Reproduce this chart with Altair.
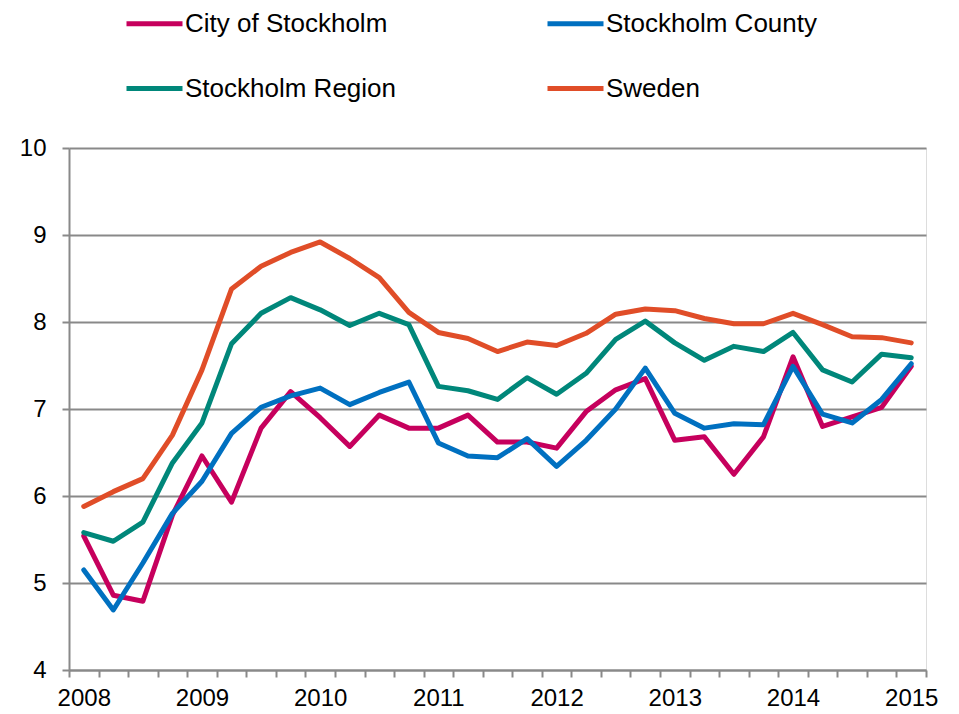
import altair as alt
import pandas as pd

quarters = [f"{y}Q{q}" for y in range(2008, 2016) for q in range(1, 5)][:29]

series_names = ["City of Stockholm", "Stockholm County", "Stockholm Region", "Sweden"]
colors = ["#C6005D", "#0070C0", "#00877A", "#E04D28"]

city = [5.54, 4.86, 4.79, 5.78, 6.46, 5.93, 6.78, 7.20, 6.90, 6.57,
        6.93, 6.78, 6.78, 6.93, 6.62, 6.62, 6.55, 6.97, 7.22, 7.35,
        6.64, 6.68, 6.25, 6.68, 7.60, 6.80, 6.91, 7.02, 7.49]
county = [5.15, 4.69, 5.23, 5.80, 6.17, 6.72, 7.02, 7.15, 7.24, 7.05,
          7.19, 7.31, 6.61, 6.46, 6.44, 6.66, 6.34, 6.64, 7.00, 7.47,
          6.95, 6.78, 6.83, 6.82, 7.49, 6.94, 6.84, 7.11, 7.52]
region = [5.58, 5.48, 5.70, 6.38, 6.84, 7.75, 8.10, 8.28, 8.14, 7.96,
          8.10, 7.97, 7.26, 7.21, 7.11, 7.36, 7.17, 7.41, 7.80, 8.01,
          7.76, 7.56, 7.72, 7.66, 7.88, 7.45, 7.31, 7.63, 7.59]
sweden = [5.88, 6.05, 6.20, 6.70, 7.45, 8.38, 8.64, 8.80, 8.92, 8.73,
          8.51, 8.11, 7.88, 7.81, 7.66, 7.77, 7.73, 7.87, 8.09, 8.15,
          8.13, 8.04, 7.98, 7.98, 8.10, 7.97, 7.83, 7.82, 7.76]

rows = []
for name, vals in zip(series_names, [city, county, region, sweden]):
    for i, (q, v) in enumerate(zip(quarters, vals)):
        rows.append({"series": name, "quarter": q, "value": v, "order": i})
df = pd.DataFrame(rows)

FONT = "Liberation Sans"
GRAY = "#898989"

chart = alt.Chart(df).mark_line(strokeWidth=5, strokeCap="round", strokeJoin="round").encode(
    x=alt.X(
        "quarter:O",
        sort=quarters,
        bandPosition=0.5,
        scale=alt.Scale(type="band", paddingInner=0, paddingOuter=0),
        axis=alt.Axis(
            title=None,
            tickBand="extent",
            labelAngle=0,
            labelExpr="substring(datum.value, 4) == 'Q1' ? substring(datum.value, 0, 4) : ''",
            labelOverlap=False,
            labelFont=FONT,
            labelFontSize=24,
            labelColor="black",
            labelPadding=9,
            tickSize=7,
            tickColor=GRAY,
            tickWidth=2,
            domainColor=GRAY,
            domainWidth=2,
            grid=False,
        ),
    ),
    y=alt.Y(
        "value:Q",
        scale=alt.Scale(domain=[4, 10], nice=False, zero=False),
        axis=alt.Axis(
            title=None,
            values=[4, 5, 6, 7, 8, 9, 10],
            grid=True,
            gridColor=GRAY,
            gridWidth=2,
            tickSize=7,
            tickColor=GRAY,
            tickWidth=2,
            domainColor=GRAY,
            domainWidth=2,
            labelFont=FONT,
            labelFontSize=24,
            labelColor="black",
            labelPadding=16,
        ),
    ),
    color=alt.Color(
        "series:N",
        scale=alt.Scale(domain=series_names, range=colors),
        legend=alt.Legend(
            title=None,
            orient="none",
            legendX=55,
            legendY=-155,
            direction="horizontal",
            columns=2,
            symbolType="stroke",
            symbolSize=3136,
            symbolStrokeWidth=5,
            labelFont=FONT,
            labelFontSize=26,
            labelColor="black",
            labelOffset=0,
            labelLimit=0,
            columnPadding=141,
            rowPadding=21,
            padding=0,
        ),
    ),
    order="order:Q",
).properties(
    width=857,
    height=522,
    autosize=alt.AutoSizeParams(type="none"),
    padding={"left": 61, "top": 140, "right": 20, "bottom": 44},
).configure_view(stroke=None).configure(background="white")

chart.save("out.html", embed_options={"renderer": "svg", "actions": False})
